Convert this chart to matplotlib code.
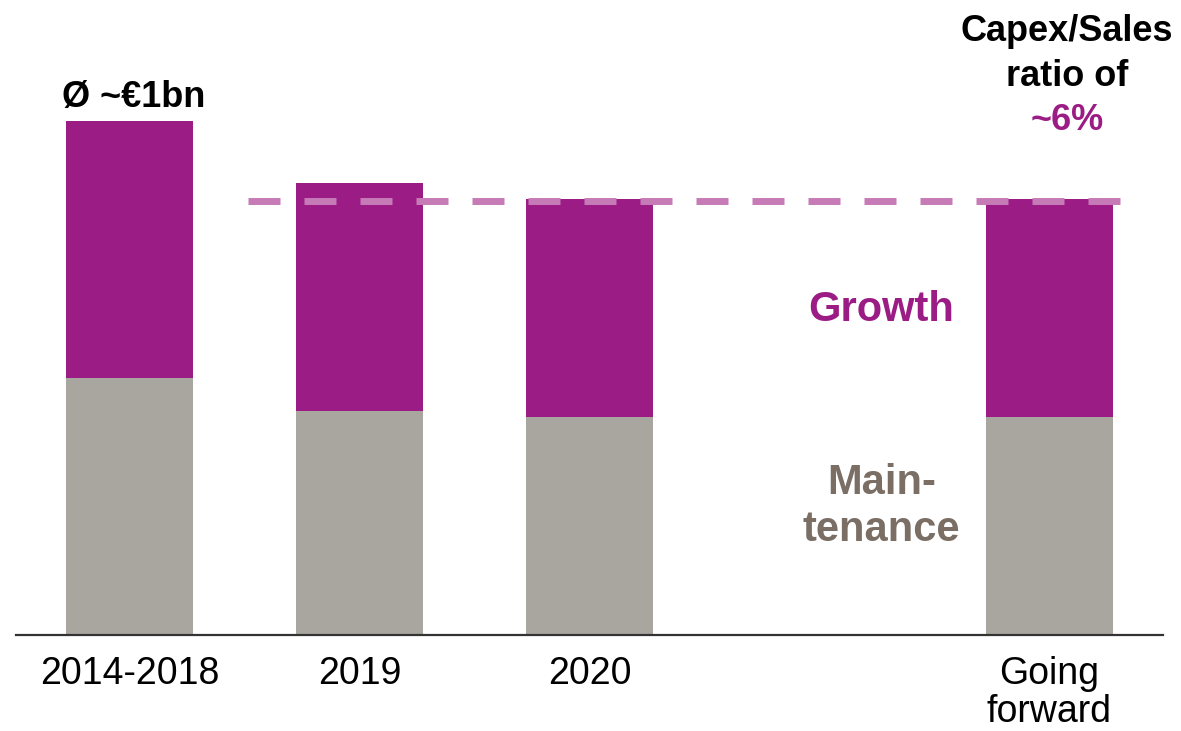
import matplotlib
matplotlib.use("Agg")
import matplotlib.pyplot as plt

plt.rcParams['font.family'] = ['Liberation Sans', 'DejaVu Sans']

# data (EUR bn)
categories = ["2014-2018", "2019", "2020", "Going\nforward"]
positions = [0, 1, 2, 4]
maintenance = [0.500, 0.436, 0.424, 0.424]
growth = [0.500, 0.443, 0.424, 0.424]
ratio_level = 0.844

purple = "#9B1C84"
grey = "#A9A59F"
dash_col = "#C67BB7"
text_grey = "#7A6E65"

fig = plt.figure(figsize=(11.81, 7.31), dpi=100)
ax = fig.add_axes([16/1181, 96/731, 1147/1181, 635/731])

ax.bar(positions, maintenance, width=0.55, color=grey, zorder=2)
ax.bar(positions, growth, bottom=maintenance, width=0.55, color=purple, zorder=2)

# capex/sales ratio line
ax.plot([0.515, 4.3065], [ratio_level, ratio_level], color=dash_col, lw=5,
        dashes=(4.608, 3.456), solid_capstyle='butt', dash_capstyle='butt', zorder=3)

ax.set_xlim(-0.4935, 4.4935)
ax.set_ylim(0, 1.2354)
ax.set_xticks(positions)
ax.set_xticklabels(categories, fontsize=27, linespacing=1.08)
ax.tick_params(axis='x', length=0, pad=15)
ax.set_yticks([])
for s in ["top", "left", "right"]:
    ax.spines[s].set_visible(False)
ax.spines["bottom"].set_color("#333333")
ax.spines["bottom"].set_linewidth(1.6)

ax.text(0.02, 1.012, "Ø ~€1bn", fontsize=26, fontweight='bold', ha='center', va='bottom')

ax.text(4.076, 1.175, "Capex/Sales", fontsize=26, fontweight='bold', ha='center', va='center')
ax.text(4.076, 1.086, "ratio of", fontsize=26, fontweight='bold', ha='center', va='center')
ax.text(4.076, 1.000, "~6%", fontsize=26, fontweight='bold', ha='center', va='center', color=purple)

ax.text(3.27, 0.632, "Growth", fontsize=30, fontweight='bold', ha='center', va='center', color=purple)
ax.text(3.27, 0.296, "Main-", fontsize=30, fontweight='bold', ha='center', va='center', color=text_grey)
ax.text(3.27, 0.204, "tenance", fontsize=30, fontweight='bold', ha='center', va='center', color=text_grey)

fig.savefig("out.png", dpi=100, facecolor="white")
